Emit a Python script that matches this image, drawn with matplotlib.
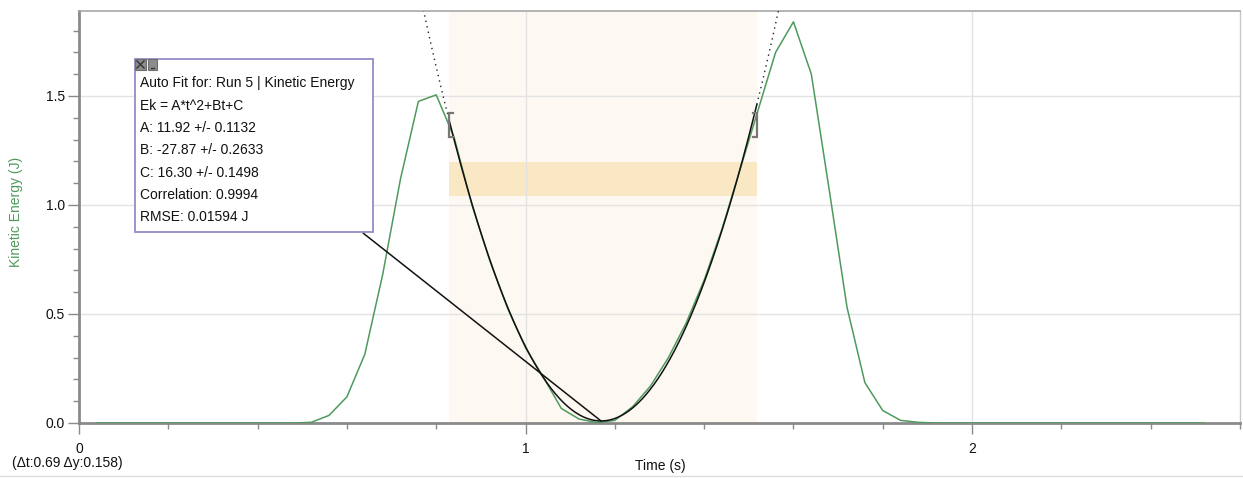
import numpy as np
import matplotlib
matplotlib.use("Agg")
import matplotlib.pyplot as plt
from matplotlib.patches import Rectangle
from matplotlib.lines import Line2D

plt.rcParams['font.family'] = ['Liberation Sans', 'DejaVu Sans']

# ---- data ----
time_s = [0.04, 0.08, 0.12, 0.16, 0.20, 0.24, 0.28, 0.32, 0.36, 0.40, 0.44, 0.48,
          0.52, 0.56, 0.60, 0.64, 0.68, 0.72, 0.76, 0.80, 0.84, 0.88, 0.92, 0.96,
          1.00, 1.04, 1.08, 1.12, 1.16, 1.20, 1.24, 1.28, 1.32, 1.36, 1.40, 1.44,
          1.48, 1.52, 1.56, 1.60, 1.64, 1.68, 1.72, 1.76, 1.80, 1.84, 1.88, 1.92,
          1.96, 2.00, 2.04, 2.08, 2.12, 2.16, 2.20, 2.24, 2.28, 2.32, 2.36, 2.40,
          2.44, 2.48, 2.52]
kinetic_energy = [0.0, 0.0, 0.0, 0.0, 0.0, 0.0, 0.0, 0.0, 0.0, 0.0, 0.0, 0.0,
                  0.003, 0.035, 0.12, 0.315, 0.68, 1.12, 1.475, 1.505, 1.31, 1.00, 0.745, 0.525,
                  0.345, 0.21, 0.067, 0.018, 0.002, 0.012, 0.075, 0.17, 0.30, 0.46, 0.655, 0.89,
                  1.16, 1.43, 1.70, 1.84, 1.60, 1.07, 0.53, 0.185, 0.057, 0.012, 0.003, 0.0,
                  0.0, 0.0, 0.0, 0.0, 0.0, 0.0, 0.0, 0.0, 0.0, 0.0, 0.0, 0.0,
                  0.0, 0.0, 0.0]

fit_A, fit_B, fit_C = 11.92, -27.87, 16.30
fit_start, fit_end = 0.828, 1.518
band_low, band_high = 1.040, 1.198

x_ticks = [0, 1, 2]
x_ticklabels = ["0", "1", "2"]
y_ticks = [0.0, 0.5, 1.0, 1.5]
y_ticklabels = ["0.0", "0.5", "1.0", "1.5"]

box_lines = ["Auto Fit for: Run 5 | Kinetic Energy",
             "Ek = A*t^2+Bt+C",
             "A: 11.92 +/- 0.1132",
             "B: -27.87 +/- 0.2633",
             "C: 16.30 +/- 0.1498",
             "Correlation: 0.9994",
             "RMSE: 0.01594 J"]
delta_text = "(\u0394t:0.69 \u0394y:0.158)"

# ---- figure ----
W, H = 1243, 478
fig = plt.figure(figsize=(W / 100, H / 100), dpi=100)
fig.patch.set_facecolor('white')

def fx(px):
    return px / W

def fy(py):
    return 1 - py / H

ax = fig.add_axes([fx(79), fy(423), fx(1240) - fx(79), fy(10.7) - fy(423)])
ax.set_xlim(0, 2.6)
ax.set_ylim(0, 1.891)

green = '#4e9a5d'

# fit region shading and band
ax.axvspan(fit_start, fit_end, color='#fdf8f1', zorder=0, lw=0)
ax.fill_between([fit_start, fit_end], [band_low, band_low], [band_high, band_high],
                color='#fae7c4', lw=0, zorder=0.5)

# grid
ax.set_xticks(x_ticks)
ax.set_xticklabels(x_ticklabels)
ax.set_yticks(y_ticks)
ax.set_yticklabels(y_ticklabels)
ax.set_xticks(np.arange(0, 2.61, 0.2), minor=True)
ax.set_yticks(np.arange(0, 1.891, 0.1), minor=True)
ax.grid(True, which='major', color='#e3e3e3', lw=1.0, zorder=0.6)
ax.set_axisbelow(True)

# data
ax.plot(time_s, kinetic_energy, color=green, lw=1.1, zorder=3)

# fit curve
def fit(t):
    return fit_A * t ** 2 + fit_B * t + fit_C

tt_in = np.linspace(fit_start, fit_end, 300)
ax.plot(tt_in, fit(tt_in), color='#111111', lw=1.1, zorder=4)
tt_l = np.linspace(0.70, fit_start, 100)
tt_r = np.linspace(fit_end, 1.65, 100)
for tt in (tt_l, tt_r):
    ax.plot(tt, fit(tt), color='#222222', lw=1.0, ls=(0, (1, 3)), zorder=4)

# brackets at fit ends
bh_lo, bh_hi = 1.31, 1.42
dx = 0.009
ax.plot([fit_start + dx, fit_start, fit_start, fit_start + dx], [bh_hi, bh_hi, bh_lo, bh_lo],
        color='#777777', lw=1.6, zorder=5, solid_joinstyle='miter')
ax.plot([fit_end - dx, fit_end, fit_end, fit_end - dx], [bh_hi, bh_hi, bh_lo, bh_lo],
        color='#777777', lw=1.6, zorder=5, solid_joinstyle='miter')

# ticks / spines
ax.tick_params(axis='both', which='major', direction='out', length=8, width=1,
               color='#8a8a8a', labelsize=10, labelcolor='#111111', pad=2)
ax.tick_params(axis='both', which='minor', direction='out', length=4, width=1,
               color='#8a8a8a')
ax.tick_params(axis='x', which='major', pad=6)
for s in ('left', 'bottom'):
    ax.spines[s].set_color('#8a8a8a')
    ax.spines[s].set_linewidth(2)
ax.spines['top'].set_color('#a8a8a8')
ax.spines['top'].set_linewidth(1.2)
ax.spines['right'].set_color('#c8c8c8')
ax.spines['right'].set_linewidth(1)

ax.set_ylabel("Kinetic Energy (J)", color=green, fontsize=10)
ax.yaxis.set_label_coords((23 - 79) / (1240 - 79), (423 - 212) / (423 - 10.7))

# connector line from box to fit vertex
t_v = -fit_B / (2 * fit_A)
ax.annotate("", xy=(t_v, fit(t_v)), xycoords='data',
            xytext=(fx(363), fy(233)), textcoords='figure fraction',
            arrowprops=dict(arrowstyle='-', color='#111111', lw=1.1,
                            shrinkA=0, shrinkB=0), zorder=6)

# annotation box
box = Rectangle((fx(135), fy(232)), fx(373) - fx(135), fy(59) - fy(232),
                transform=fig.transFigure, facecolor='white', edgecolor='#938ec6',
                lw=1.3, zorder=10)
fig.patches.append(box)
b1 = Rectangle((fx(135), fy(70)), fx(11), fy(59) - fy(70), transform=fig.transFigure,
               facecolor='#8c8c8c', edgecolor='#6e6e6e', lw=0.8, zorder=11)
b2 = Rectangle((fx(148), fy(70)), fx(9), fy(59) - fy(70), transform=fig.transFigure,
               facecolor='#8c8c8c', edgecolor='#6e6e6e', lw=0.8, zorder=11)
fig.patches.extend([b1, b2])
fig.lines.append(Line2D([fx(137), fx(144)], [fy(61), fy(68)], transform=fig.transFigure,
                        color='#333333', lw=1, zorder=12))
fig.lines.append(Line2D([fx(137), fx(144)], [fy(68), fy(61)], transform=fig.transFigure,
                        color='#333333', lw=1, zorder=12))
fig.lines.append(Line2D([fx(151), fx(154)], [fy(67.5), fy(67.5)], transform=fig.transFigure,
                        color='#333333', lw=1, zorder=12))

for i, line in enumerate(box_lines):
    fig.text(fx(140), fy(83.5 + i * 22.3), line, fontsize=10, color='#111111',
             ha='left', va='center', zorder=13)

# bottom texts
fig.text(fx(660), fy(466), "Time (s)", fontsize=10, ha='center', va='center', color='#111111')
fig.text(fx(12), fy(463), delta_text, fontsize=10, ha='left', va='center', color='#111111')
fig.lines.append(Line2D([0, 1], [fy(476), fy(476)], transform=fig.transFigure,
                        color='#dddddd', lw=1))

fig.savefig("out.png", dpi=100)
